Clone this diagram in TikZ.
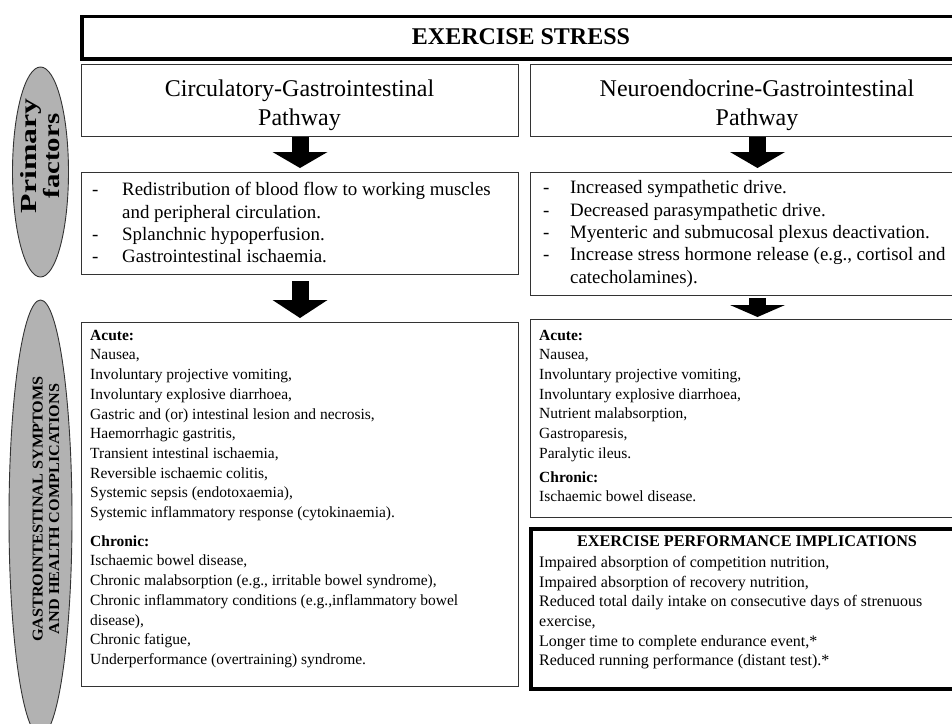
\documentclass[tikz,border=0pt]{standalone}
\usepackage{fontspec}
\setmainfont{Liberation Serif}
\usetikzlibrary{arrows.meta,calc,shapes.geometric}
\newcommand\dashitem[1]{\makebox[#1][l]{-}}
\begin{document}
\begin{tikzpicture}[x=1pt,y=-1pt,
  box/.style={draw=black!80, line width=1pt, rectangle, inner sep=0pt, anchor=north west},
  thickbox/.style={draw=black, line width=3.5pt, rectangle, inner sep=0pt, anchor=north west},
  pathtxt/.style={inner sep=0pt, align=center, font=\fontsize{24}{29}\selectfont},
  txt/.style={inner sep=0pt, anchor=north west, align=left, font=\fontsize{15.5}{19.7}\selectfont},
  perfbody/.style={inner sep=0pt, anchor=north west, align=left, font=\fontsize{16}{19.7}\selectfont},
  prim/.style={inner sep=0pt, anchor=north west, align=left, font=\fontsize{18.9}{22.3}\selectfont},
  blockarrow/.style={line width=17pt, draw=black, -{Triangle[length=#1, width=55pt, line width=0pt]}},
  oval/.style={ellipse, draw=black!80, line width=0.9pt, fill=black!30, inner sep=0pt},
  ovaltxt/.style={rotate=90, align=center, inner sep=0pt}
]
\useasboundingbox (0,0) rectangle (952,723);
\clip (0,0) rectangle (952,723);

% side ellipses
\node[oval, minimum width=56pt, minimum height=210pt] (ellA) at (40.5,172) {};
\node[oval, minimum width=63pt, minimum height=436pt] (ellB) at (40.5,518) {};
\node[ovaltxt, font=\bfseries\fontsize{23}{23}\selectfont] (ellAtxt) at (40.5,156) {\scalebox{1.38}[1]{Primary}\\\scalebox{1.25}[1]{factors}};
\node[ovaltxt, font=\bfseries\fontsize{15}{16.5}\selectfont] (ellBtxt) at (46,509) {\scalebox{1.08}[1]{GASTROINTESTINAL SYMPTOMS}\\\scalebox{1.08}[1]{AND HEALTH COMPLICATIONS}};

% title
\node[thickbox, minimum width=910pt, minimum height=42.5pt] (stress) at (80,14.5) {};
\node[inner sep=0pt, font=\bfseries\fontsize{24}{28}\selectfont] (stresstxt) at (521,36.5) {EXERCISE STRESS};

% pathway boxes
\node[box, minimum width=437pt, minimum height=72pt] (pathL) at (81,64) {};
\node[box, minimum width=454pt, minimum height=72pt] (pathR) at (530,64) {};
\node[pathtxt] (pathLtxt) at (299.5,105) {Circulatory-Gastrointestinal\\Pathway};
\node[pathtxt] (pathRtxt) at (757,105) {Neuroendocrine-Gastrointestinal\\Pathway};

% primary factor boxes
\node[box, minimum width=437pt, minimum height=102pt] (primL) at (81,172) {};
\node[box, minimum width=454pt, minimum height=123pt] (primR) at (530,172) {};
\node[prim] (primLtxt) at (92,180) {\strut\dashitem{30pt}Redistribution of blood flow to working muscles\\
\hspace*{30pt}and peripheral circulation.\\
\dashitem{30pt}Splanchnic hypoperfusion.\\
\dashitem{30pt}Gastrointestinal ischaemia.};
\node[prim] (primRtxt) at (543,178) {\strut\dashitem{27pt}Increased sympathetic drive.\\
\dashitem{27pt}Decreased parasympathetic drive.\\
\dashitem{27pt}Myenteric and submucosal plexus deactivation.\\
\dashitem{27pt}Increase stress hormone release (e.g., cortisol and\\
\hspace*{27pt}catecholamines).};

% symptom boxes
\node[box, minimum width=437pt, minimum height=364pt] (symL) at (81,322) {};
\node[box, minimum width=454pt, minimum height=198pt] (symR) at (530,319) {};
\node[txt] (symLtxt) at (90,326.2) {\strut\textbf{Acute:}\\
Nausea,\\
Involuntary projective vomiting,\\
Involuntary explosive diarrhoea,\\
Gastric and (or) intestinal lesion and necrosis,\\
Haemorrhagic gastritis,\\
Transient intestinal ischaemia,\\
Reversible ischaemic colitis,\\
Systemic sepsis (endotoxaemia),\\
Systemic inflammatory response (cytokinaemia).\\[9pt]
\textbf{Chronic:}\\
Ischaemic bowel disease,\\
Chronic malabsorption (e.g., irritable bowel syndrome),\\
Chronic inflammatory conditions (e.g.,inflammatory bowel\\
disease),\\
Chronic fatigue,\\
Underperformance (overtraining) syndrome.};
\node[txt] (symRtxt) at (539,326.2) {\strut\textbf{Acute:}\\
Nausea,\\
Involuntary projective vomiting,\\
Involuntary explosive diarrhoea,\\
Nutrient malabsorption,\\
Gastroparesis,\\
Paralytic ileus.\\[4pt]
\textbf{Chronic:}\\
Ischaemic bowel disease.};

% performance box
\node[thickbox, minimum width=455pt, minimum height=160pt] (perf) at (529,527) {};
\node[inner sep=0pt, font=\bfseries\fontsize{16.2}{19}\selectfont] (perftitle) at (747,541) {EXERCISE PERFORMANCE IMPLICATIONS};
\node[perfbody] (perftxt) at (539,553.3) {\strut Impaired absorption of competition nutrition,\\
Impaired absorption of recovery nutrition,\\
Reduced total daily intake on consecutive days of strenuous\\
exercise,\\
Longer time to complete endurance event,*\\
Reduced running performance (distant test).*};

% block arrows
\draw[blockarrow=16pt] (pathL.south) -- ($(primL.north)+(0,-4)$);
\draw[blockarrow=16pt] (pathR.south) -- ($(primR.north)+(0,-4)$);
\draw[blockarrow=18pt] ($(primL.south)+(0,6)$) -- ($(symL.north)+(0,-4)$);
\draw[blockarrow=12pt] ($(primR.south)+(0,2)$) -- ($(symR.north)+(0,-2)$);
\end{tikzpicture}
\end{document}
